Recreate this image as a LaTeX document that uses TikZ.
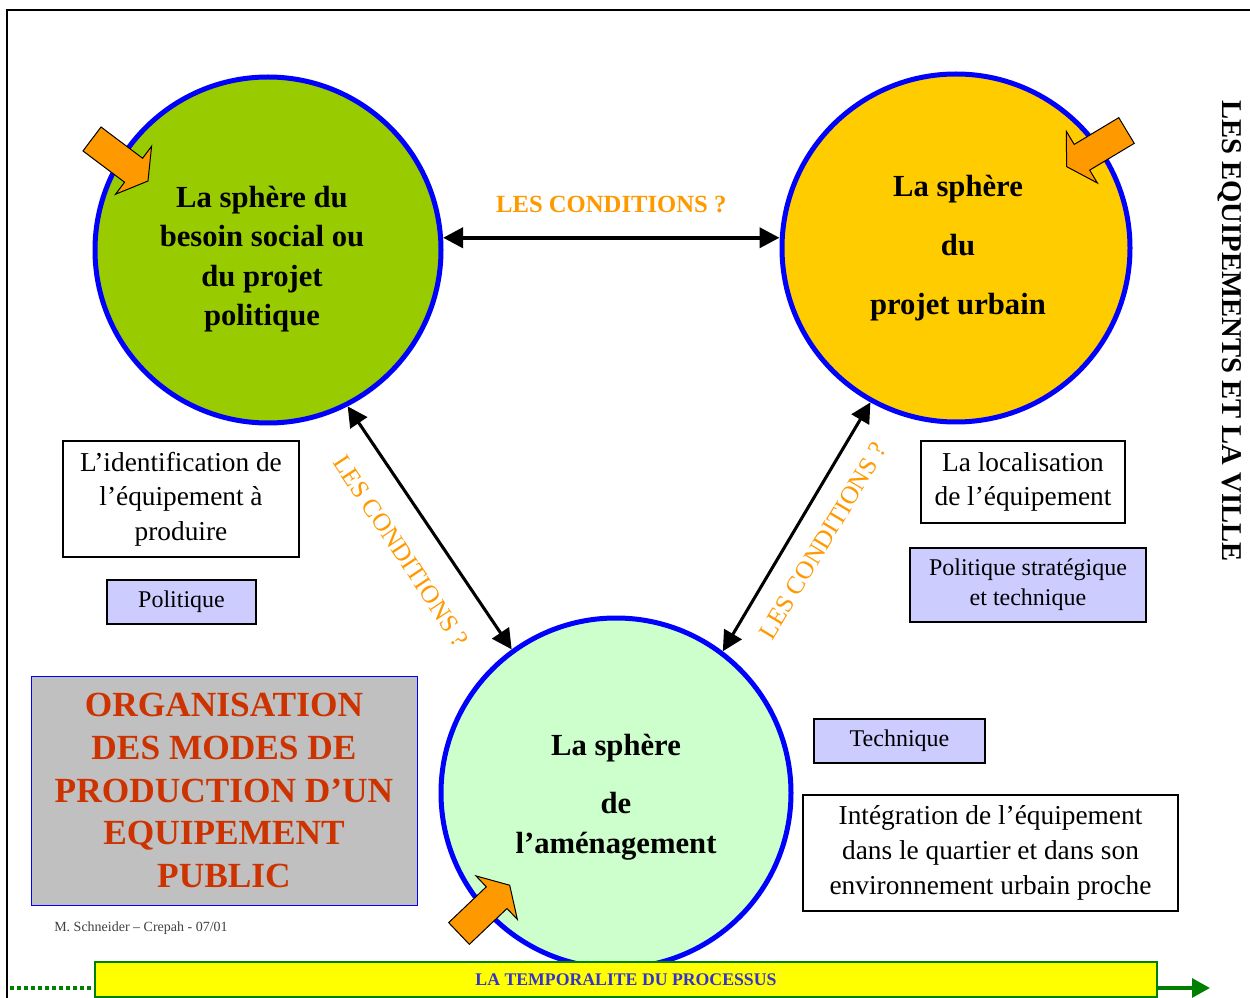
\documentclass[tikz,border=0pt]{standalone}
\usepackage{fontspec}
\setmainfont{Liberation Serif}
\usepackage{xcolor}
\usepackage{tikz}
\usetikzlibrary{positioning,arrows.meta}

\begin{document}
\begin{tikzpicture}[x=0.75pt,y=0.75pt,yscale=-1,xscale=1,
	sphere/.style={circle, draw={rgb, 255:red, 0; green, 0; blue, 255 }, line width=3.75pt, inner sep=0pt},
	spheretxt/.style={align=center, inner sep=0.75pt, font=\bfseries\fontsize{23}{29.5}\selectfont},
	liaison/.style={line width=2.3pt, >={Triangle[length=15pt,width=15pt]}, <->},
	cond/.style={color={rgb, 255:red, 255; green, 153; blue, 0 }, inner sep=0pt, font=\fontsize{19}{22}\selectfont},
	boite/.style={draw, line width=1.1pt, align=center, inner sep=0pt, font=\fontsize{20.5}{26}\selectfont},
	mode/.style={boite, fill={rgb, 255:red, 204; green, 204; blue, 255 }, font=\fontsize{18}{22.5}\selectfont},
	fleche/.pic={\draw[fill={rgb, 255:red, 255; green, 153; blue, 0 }, line width=0.75pt, line join=miter] (0,-15) -- (52,-15) -- (52,-30) -- (70,0) -- (52,30) -- (52,15) -- (0,15) -- cycle;}
	]
	\useasboundingbox (0,0) rectangle (1250,998);
	
	%Straight Lines (cadre)
	\draw [line width=1.5pt] (7,998) -- (7,10) -- (1250,10) ;
	
	%Shape: Circle
	\node [sphere, fill={rgb, 255:red, 153; green, 204; blue, 0 }, minimum size=259.5pt] (besoin) at (268,250) {};
	%Shape: Circle
	\node [sphere, fill={rgb, 255:red, 255; green, 204; blue, 0 }, minimum size=261pt] (urbain) at (956,248) {};
	%Shape: Circle
	\node [sphere, fill={rgb, 255:red, 204; green, 255; blue, 204 }, minimum size=262.5pt] (amenag) at (616,793) {};
	
	%Shape: Right Arrow
	\pic [rotate=-36.9] at (92,139) {fleche};
	%Shape: Right Arrow
	\pic [rotate=-149] at (1126.5,130.5) {fleche};
	%Shape: Right Arrow
	\pic [rotate=43.6] at (459,933.5) {fleche};
	
	%Straight Lines
	\draw [liaison, line width=3pt] (besoin.4) -- (besoin.4 -| urbain.west) node [midway, above=17pt, cond, font=\bfseries\fontsize{18.5}{22}\selectfont] (condhaut) {LES CONDITIONS ?};
	%Straight Lines
	\draw [liaison] (besoin.-63) -- (amenag.126) ;
	%Straight Lines
	\draw [liaison] (amenag.53) -- (urbain.-119) ;
	
	% Text Node
	\node [cond, rotate=-56.5] (condgauche) at (401,551) {LES CONDITIONS ?};
	% Text Node
	\node [cond, rotate=59] (conddroite) at (823,541) {LES CONDITIONS ?};
	
	% Text Node
	\node [spheretxt] (besointxt) at (262,259) {La sphère du\\besoin social ou\\du projet\\politique};
	% Text Node
	\node [spheretxt] (urbaintxt) at (958,248) {La sphère\\[14.5pt]du\\[14.5pt]projet urbain};
	% Text Node
	\node [spheretxt] (amenagtxt) at (616,797) {La sphère\\[14.5pt]de\\l’aménagement};
	
	% Text Node
	\node [boite, minimum width=177pt, minimum height=87pt] (identif) at (181,499) {L’identification de\\l’équipement à\\produire};
	% Text Node
	\node [mode, minimum width=111.75pt, minimum height=33pt] (politique) at (181.5,602) {Politique};
	% Text Node
	\node [boite, minimum width=153pt, minimum height=61.5pt] (localis) at (1023,482) {La localisation\\de l’équipement};
	% Text Node
	\node [mode, minimum width=177pt, minimum height=55.5pt] (strateg) at (1028,585) {Politique stratégique\\et technique};
	% Text Node
	\node [mode, minimum width=128.25pt, minimum height=33pt] (technique) at (899.5,741) {Technique};
	% Text Node
	\node [boite, minimum width=281.25pt, minimum height=87pt] (integr) at (990.5,853) {Intégration de l’équipement\\dans le quartier et dans son\\environnement urbain proche};
	
	% Text Node
	\node [draw={rgb, 255:red, 0; green, 0; blue, 255 }, line width=0.75pt, fill={rgb, 255:red, 192; green, 192; blue, 192 }, minimum width=289.5pt, minimum height=171.75pt, align=center, inner sep=0pt, text={rgb, 255:red, 204; green, 51; blue, 0 }, font=\bfseries\fontsize{26.5}{32}\selectfont] (organisation) at (224,790.5) {ORGANISATION\\DES MODES DE\\PRODUCTION D’UN\\EQUIPEMENT\\PUBLIC};
	% Text Node
	\node [text={rgb, 255:red, 64; green, 64; blue, 64 }, inner sep=0pt, font=\fontsize{10.5}{12}\selectfont] (signature) at (141,928) {M. Schneider – Crepah - 07/01};
	% Text Node
	\node [rotate=-90, inner sep=0pt, font=\bfseries\fontsize{21.5}{25}\selectfont] (titre) at (1230,331) {LES EQUIPEMENTS ET LA VILLE};
	
	% Text Node
	\node [draw={rgb, 255:red, 0; green, 128; blue, 0 }, fill={rgb, 255:red, 255; green, 255; blue, 0 }, line width=0.9pt, minimum width=796.5pt, minimum height=26.25pt, inner sep=0pt, text={rgb, 255:red, 51; green, 51; blue, 204 }, font=\bfseries\fontsize{13.3}{16}\selectfont] (temps) at (626,979.5) {LA TEMPORALITE DU PROCESSUS};
	\coordinate (debut) at (10,988);
	\coordinate (fin) at (1210,988);
	%Straight Lines
	\draw [color={rgb, 255:red, 0; green, 128; blue, 0 }, line width=2.7pt, dash pattern={on 3pt off 2.25pt}] (debut) -- (temps.west |- debut) ;
	%Straight Lines
	\draw [color={rgb, 255:red, 0; green, 128; blue, 0 }, line width=3pt, -{Triangle[length=13.5pt,width=14pt]}] (temps.east |- fin) -- (fin) ;
	
\end{tikzpicture}
\end{document}
